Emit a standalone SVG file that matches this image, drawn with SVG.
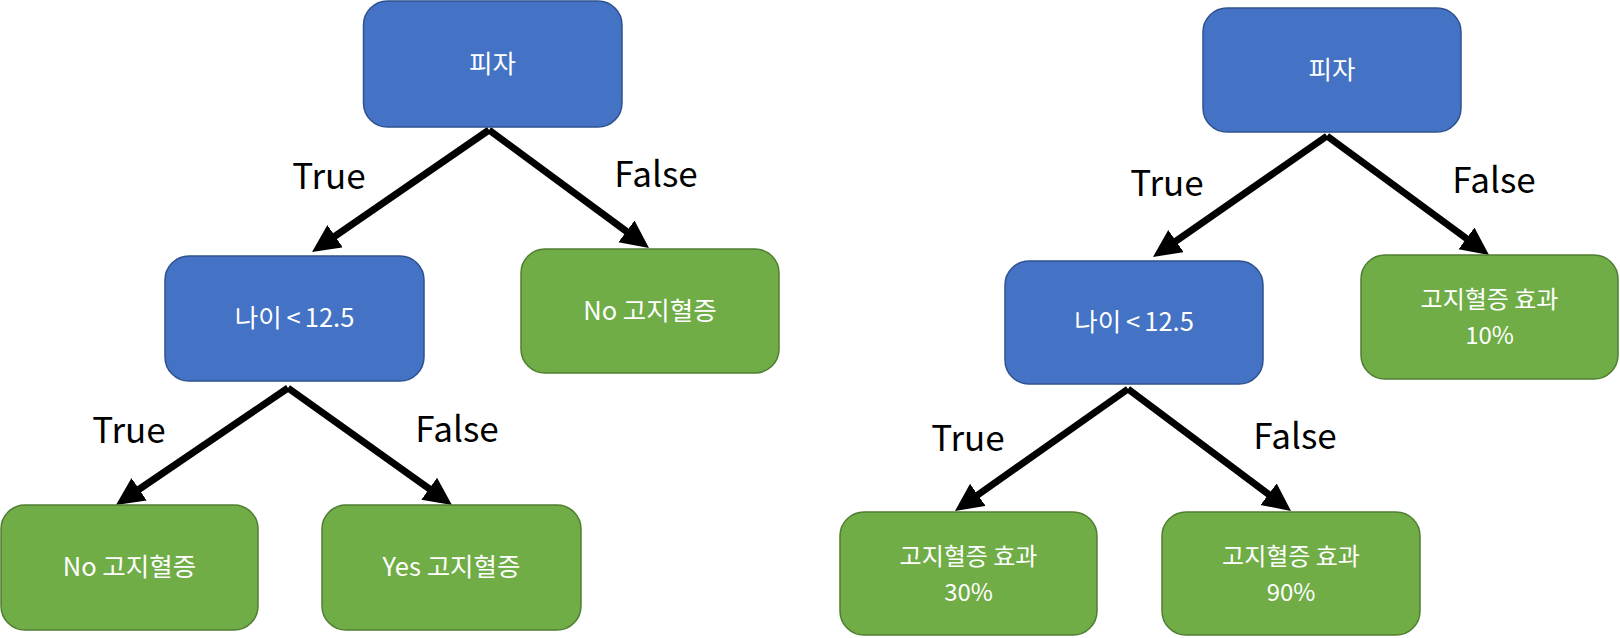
<svg xmlns="http://www.w3.org/2000/svg" width="1620" height="638" viewBox="0 0 1620 638">
<style>
.blue{fill:#4472C4;stroke:#2F528F;stroke-width:1.5}
.green{fill:#70AD47;stroke:#507E32;stroke-width:1.5}
.nt{fill:#FFFFFF;font-family:"Noto Sans CJK KR","Noto Sans",sans-serif;font-size:25.5px;text-anchor:middle}
.nt2{fill:#FFFFFF;font-family:"Noto Sans CJK KR","Noto Sans",sans-serif;font-size:24px;text-anchor:middle}
.lbl{fill:#000000;font-family:"Noto Sans CJK KR","Noto Sans",sans-serif;font-size:35px;text-anchor:middle}
.edge{stroke:#000000;stroke-width:7;fill:none;marker-end:url(#ah)}
</style>
<defs>
<marker id="ah" markerUnits="userSpaceOnUse" markerWidth="30" markerHeight="28" refX="8" refY="13.5" orient="auto">
<path d="M0,0 L28,13.5 L0,27 Z" fill="#000000"/>
</marker>
</defs>
<g id="connectors">
<line class="edge" x1="489" y1="130" x2="328.5" y2="240.7"/>
<line class="edge" x1="489" y1="130" x2="632.9" y2="236.1"/>
<line class="edge" x1="288" y1="388" x2="132.5" y2="493.75"/>
<line class="edge" x1="288" y1="388" x2="435.7" y2="493.4"/>
<line class="edge" x1="1327" y1="136" x2="1169.4" y2="245.6"/>
<line class="edge" x1="1327" y1="136" x2="1472.9" y2="243.2"/>
<line class="edge" x1="1128" y1="389" x2="971.3" y2="499.5"/>
<line class="edge" x1="1128" y1="389" x2="1275" y2="499"/>
<text class="lbl" x="329" y="189">True</text>
<text class="lbl" x="656" y="187">False</text>
<text class="lbl" x="129" y="443">True</text>
<text class="lbl" x="457" y="442">False</text>
<text class="lbl" x="1167" y="196">True</text>
<text class="lbl" x="1494" y="193">False</text>
<text class="lbl" x="968" y="451">True</text>
<text class="lbl" x="1295" y="449">False</text>
</g>
<g id="n1"><rect class="blue" x="363.5" y="1" width="258.5" height="126" rx="24"/><text class="nt" x="492.5" y="73">피자</text></g>
<g id="n2"><rect class="blue" x="165" y="256" width="259" height="125" rx="24"/><text class="nt" x="294.5" y="327">나이<tspan dx="5">&lt;</tspan><tspan dx="4">12.5</tspan></text></g>
<g id="n3"><rect class="green" x="521" y="249" width="258" height="124" rx="24"/><text class="nt" x="650" y="320">No 고지혈증</text></g>
<g id="n4"><rect class="green" x="1" y="505" width="257" height="125" rx="24"/><text class="nt" x="129.5" y="576">No 고지혈증</text></g>
<g id="n5"><rect class="green" x="322" y="505" width="259" height="125" rx="24"/><text class="nt" x="451.5" y="576">Yes 고지혈증</text></g>
<g id="n6"><rect class="blue" x="1203" y="8" width="258" height="124" rx="24"/><text class="nt" x="1332" y="79">피자</text></g>
<g id="n7"><rect class="blue" x="1005" y="261" width="258" height="123" rx="24"/><text class="nt" x="1134" y="331">나이<tspan dx="5">&lt;</tspan><tspan dx="4">12.5</tspan></text></g>
<g id="n8"><rect class="green" x="1361" y="255" width="257" height="124" rx="24"/><text class="nt2" x="1489.5" y="308">고지혈증 효과</text><text class="nt2" x="1489.5" y="344">10%</text></g>
<g id="n9"><rect class="green" x="840" y="512" width="257" height="123" rx="24"/><text class="nt2" x="968.5" y="565">고지혈증 효과</text><text class="nt2" x="968.5" y="601">30%</text></g>
<g id="n10"><rect class="green" x="1162" y="512" width="258" height="123" rx="24"/><text class="nt2" x="1291" y="565">고지혈증 효과</text><text class="nt2" x="1291" y="601">90%</text></g>
</svg>
